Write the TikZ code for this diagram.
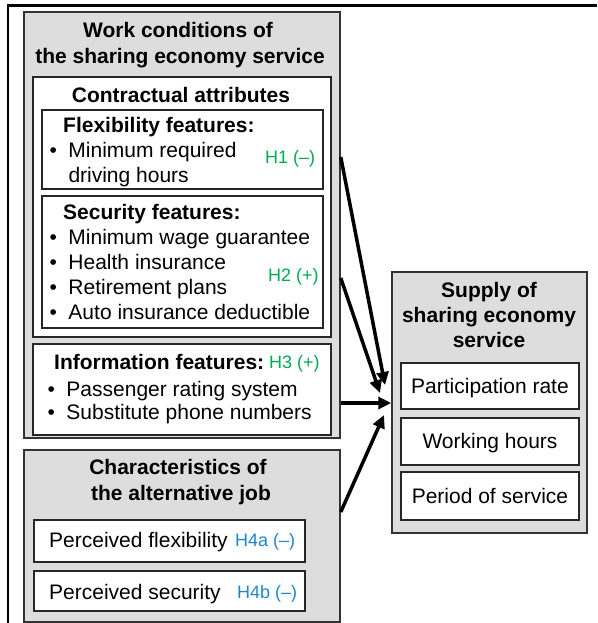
\documentclass[tikz,border=0pt]{standalone}
\usepackage{fontspec}
\setmainfont{Liberation Sans}
\usetikzlibrary{arrows.meta}
\definecolor{hgreen}{RGB}{0,170,85}
\definecolor{hblue}{RGB}{30,135,205}
\definecolor{boxgray}{RGB}{221,221,221}
\tikzset{
  graybox/.style={draw=black!80, fill=boxgray, line width=1.5pt, inner sep=0pt},
  whitebox/.style={draw=black!85, fill=white, line width=2pt, inner sep=0pt},
  ttl/.style={font=\fontsize{21}{25}\selectfont\bfseries, inner sep=0pt, anchor=base},
  ttlw/.style={font=\fontsize{21}{25}\selectfont\bfseries, inner sep=0pt, anchor=base west},
  txt/.style={font=\fontsize{21}{25}\selectfont, inner sep=0pt, anchor=base west},
  txtc/.style={font=\fontsize{21}{25}\selectfont, inner sep=0pt, anchor=base},
  hypg/.style={font=\fontsize{18}{22}\selectfont, text=hgreen, inner sep=0pt, anchor=base west},
  hypb/.style={font=\fontsize{18}{22}\selectfont, text=hblue, inner sep=0pt, anchor=base west},
  arr/.style={line width=3.5pt, -{Triangle[length=13pt,width=12pt]}}
}
\newcommand{\bul}{\makebox[19pt][l]{•}}
\begin{document}
\begin{tikzpicture}[x=1pt,y=-1pt]
\useasboundingbox (0,0) rectangle (597,623);
\fill[white] (0,0) rectangle (597,623);
% outer frame
\draw[line width=2.5pt] (8,623) -- (8,5.5) -- (597,5.5);
% boxes
\node[graybox, minimum width=316pt, minimum height=426pt] (work) at (182,225) {};
\node[whitebox, minimum width=298pt, minimum height=260pt] (contract) at (182,207) {};
\node[whitebox, minimum width=281pt, minimum height=79pt] (flex) at (182.5,149.5) {};
\node[whitebox, minimum width=281pt, minimum height=132pt] (sec) at (182.5,262) {};
\node[whitebox, minimum width=298pt, minimum height=91pt] (info) at (182,389.5) {};
\node[graybox, minimum width=316pt, minimum height=172pt] (alt) at (182,536) {};
\node[whitebox, minimum width=271pt, minimum height=42pt] (pflex) at (169.5,541) {};
\node[whitebox, minimum width=271pt, minimum height=40pt] (psec) at (169.5,591) {};
\node[graybox, minimum width=195pt, minimum height=261pt] (supply) at (489.5,402.5) {};
\node[whitebox, minimum width=178pt, minimum height=46pt] (part) at (490,386) {};
\node[whitebox, minimum width=178pt, minimum height=47pt] (hours) at (490,441.5) {};
\node[whitebox, minimum width=178pt, minimum height=48pt] (period) at (490,496) {};
% texts: work conditions
\node[ttl] (wt1) at (178,37.5) {Work conditions of};
\node[ttl] (wt2) at (180,63.5) {the sharing economy service};
\node[ttl] (ct) at (181,102.5) {Contractual attributes};
\node[ttlw] (ft) at (63,132.5) {Flexibility features:};
\node[txt] (f1) at (49.3,157.5) {\bul Minimum required};
\node[txt] (f2) at (68.3,182.5) {driving hours};
\node[hypg] (h1) at (265,163.5) {H1 (–)};
\node[ttlw] (st) at (63,219.5) {Security features:};
\node[txt] (s1) at (49.3,244.5) {\bul Minimum wage guarantee};
\node[txt] (s2) at (49.3,269.5) {\bul Health insurance};
\node[txt] (s3) at (49.3,294.5) {\bul Retirement plans};
\node[txt] (s4) at (49.3,319.5) {\bul Auto insurance deductible};
\node[hypg] (h2) at (268,281.5) {H2 (+)};
\node[ttlw] (it) at (54,369.5) {Information features:};
\node[hypg] (h3) at (269,368.5) {H3 (+)};
\node[txt] (i1) at (47.3,396.5) {\bul Passenger rating system};
\node[txt] (i2) at (47.3,419.5) {\bul Substitute phone numbers};
% alternative job
\node[ttl] (at1) at (178,474.5) {Characteristics of};
\node[ttl] (at2) at (181,500.5) {the alternative job};
\node[txt] (pf) at (49,547) {Perceived flexibility};
\node[hypb] (h4a) at (235,546) {H4a (–)};
\node[txt] (ps) at (49,599.5) {Perceived security};
\node[hypb] (h4b) at (237,598) {H4b (–)};
% supply
\node[ttl] (su1) at (489,297.5) {Supply of};
\node[ttl] (su2) at (489,322.5) {sharing economy};
\node[ttl] (su3) at (489,347.5) {service};
\node[txtc] (pr) at (490,393.5) {Participation rate};
\node[txtc] (wh) at (490,448.5) {Working hours};
\node[txtc] (pos) at (490,503.5) {Period of service};
% arrows
\coordinate (a1s) at (work.east |- 0,157);
\coordinate (a1e) at (385,385);
\coordinate (a2s) at (work.east |- 0,278);
\coordinate (a2e) at (380,393);
\coordinate (a3s) at (work.east |- 0,403);
\coordinate (a3e) at (supply.west |- 0,403);
\coordinate (a4s) at (alt.east |- 0,512);
\coordinate (a4e) at (384,415);
\draw[arr] (a1s) -- (a1e);
\draw[arr] (a2s) -- (a2e);
\draw[arr] (a3s) -- (a3e);
\draw[arr] (a4s) -- (a4e);
\end{tikzpicture}
\end{document}
